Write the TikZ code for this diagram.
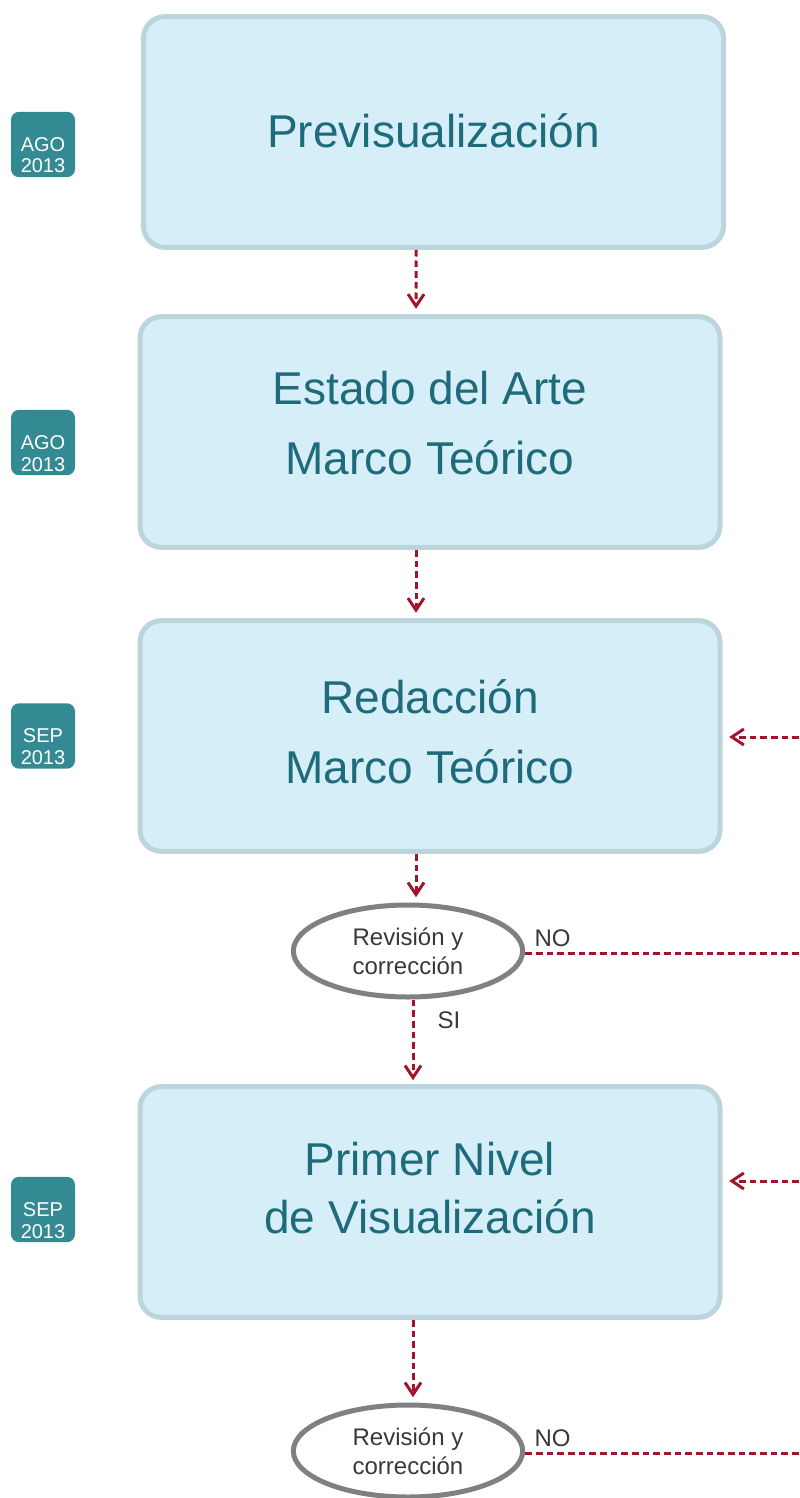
\documentclass[tikz,border=0pt]{standalone}
\usepackage{fontspec}
\setmainfont{Liberation Sans}
\usetikzlibrary{arrows.meta,shapes.geometric}
\definecolor{cajafondo}{HTML}{D6EEF7}
\definecolor{cajaborde}{HTML}{BCD4DB}
\definecolor{cajatexto}{HTML}{1E6B7B}
\definecolor{fechafondo}{HTML}{348A93}
\definecolor{rojo}{HTML}{A0152B}
\definecolor{ovalo}{HTML}{808082}
\definecolor{gris}{HTML}{383838}
\tikzset{
  etapa/.style = {draw=cajaborde, fill=cajafondo, line width=3.75pt,
    rounded corners=16pt, minimum width=435pt, minimum height=173pt,
    align=center, text=cajatexto, font=\fontsize{34.5}{52}\selectfont},
  revision/.style = {ellipse, draw=ovalo, line width=3.75pt, inner sep=0pt,
    minimum width=172pt, minimum height=69pt, align=center, text=gris,
    font=\fontsize{18}{22}\selectfont},% ovalo de decision
  fecha/.style = {fill=fechafondo, rounded corners=6pt, text=white,
    inner sep=0pt, minimum width=48pt, minimum height=49pt, align=center,
    text height=42.75pt, text depth=0pt, font=\fontsize{15}{16.2}\selectfont},
  flujo/.style = {draw=rojo, line width=2.25pt, dash pattern=on 5pt off 3pt},
  etiqueta/.style = {text=gris, font=\fontsize{18}{22}\selectfont}
}

\begin{document}
\begin{tikzpicture}[x=0.75pt,y=-0.75pt,->,>={Straight Barb[length=9pt,width=12pt]}]
\useasboundingbox (0,0) rectangle (799,1498);
% etapas
\node [etapa, text depth=2pt] (e1) at (433.5,132) {Previsualización};
\node [etapa, text depth=14pt] (e2) at (430,432) {Estado del Arte\\Marco Teórico};
\node [etapa, text depth=6.5pt] (e3) at (430,736) {Redacción\\Marco Teórico};
\node [etapa, text depth=21.5pt, font=\fontsize{34.5}{43}\selectfont] (e4)
  at (430,1202) {Primer Nivel\\de Visualización};
% revisiones
\node [revision] (o1) at (408,951) {Revisión y\\corrección};
\node [revision] (o2) at (408,1451) {Revisión y\\corrección};
% fechas
\node [fecha] (f1) at (43,144.5) {AGO\\2013};
\node [fecha] (f2) at (43,442.5) {AGO\\2013};
\node [fecha] (f3) at (43,736) {SEP\\2013};
\node [fecha] (f4) at (43,1209.5) {SEP\\2013};
% borde derecho
\coordinate (d1) at (799,953);
\coordinate (d2) at (799,1453);
\coordinate (v1) at (799,737);
\coordinate (v2) at (799,1181);

\draw [flujo, shorten >=4pt] ([xshift=-13pt]e1.south) -- ([xshift=-10.5pt]e2.north);
\draw [flujo, shorten >=4pt] ([xshift=-10.5pt]e2.south) -- ([xshift=-10.5pt]e3.north);
\draw [flujo, shorten >=4pt] ([xshift=-10.5pt]e3.south) -- ([xshift=6pt]o1.north);
\draw [flujo, shorten >=3pt] ([xshift=3.75pt]o1.south) -- ([xshift=-12.75pt]e4.north)
  node [pos=0.25, right=14pt, etiqueta] {SI};
\draw [flujo, shorten >=4pt] ([xshift=-12.75pt]e4.south) -- ([xshift=3.75pt]o2.north);
\draw [flujo, -] (o1.east |- d1) -- (d1) node [pos=0.1, above, etiqueta] {NO};
\draw [flujo, -] (o2.east |- d2) -- (d2) node [pos=0.1, above, etiqueta] {NO};
\draw [flujo, shorten >=5pt] (v1) -- (e3.east |- v1);
\draw [flujo, shorten >=5pt] (v2) -- (e4.east |- v2);
\end{tikzpicture}
\end{document}
